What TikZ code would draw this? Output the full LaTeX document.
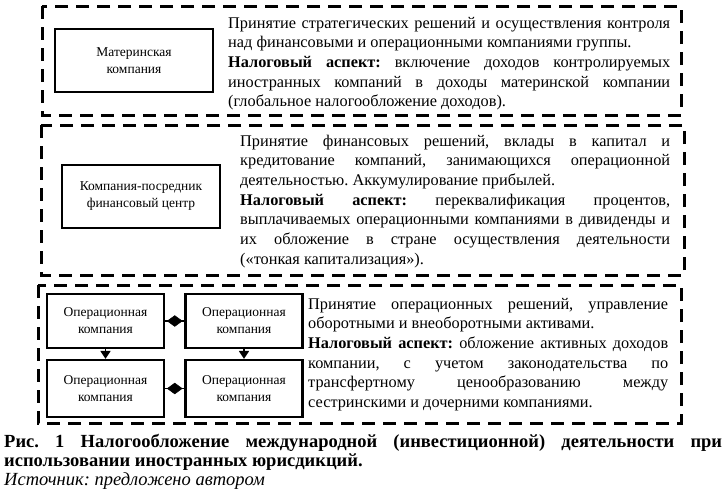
\documentclass[tikz,border=0pt]{standalone}
\usepackage{fontspec}
\setmainfont{Liberation Serif}
\usetikzlibrary{arrows.meta,shapes.geometric}
\tikzset{
  frame/.style={line width=3pt, dash pattern=on 13pt off 8pt},
  entity/.style={draw, line width=2pt, align=center, inner sep=0pt,
    font=\fontsize{13.5}{17}\selectfont},
  opbox/.style={entity, line width=2.2pt, minimum width=117pt},
  desc/.style={anchor=base west, inner sep=0pt, align=justify,
    font=\fontsize{16.3}{19.7}\selectfont},
  caption/.style={anchor=base west, inner sep=0pt, align=justify, text width=718pt,
    font=\fontsize{18.5}{19}\selectfont},
  linkline/.style={line width=1.6pt},
  dmark/.style={diamond, fill=black, draw=black, line width=0.5pt, inner sep=0pt,
    minimum width=15pt, minimum height=11pt},
  downlink/.style={line width=1.6pt, -{Triangle[length=8pt,width=10pt]}},
}
\begin{document}
\frenchspacing
\begin{tikzpicture}[x=1pt,y=-1pt]
\useasboundingbox (0,0) rectangle (726,491);
% dashed frames
\draw[frame] (42,6) rectangle (681,115);
\draw[frame] (41,125) rectangle (684,275);
\draw[frame] (38,285) rectangle (681,423);
% level 1
\node[entity, minimum width=158pt, minimum height=63pt] (mother) at (134,60.5) {Материнская\\компания};
\node[desc, text width=442pt] (d1) at (228,28) {\tolerance=10000\hyphenpenalty=10000
Принятие стратегических решений и осуществления контроля\linebreak
над финансовыми и операционными компаниями группы.\par
\textbf{Налоговый аспект:} включение доходов контролируемых\linebreak
иностранных компаний в доходы материнской компании\linebreak
(глобальное налогообложение доходов).};
% level 2
\node[entity, minimum width=158pt, minimum height=63pt] (fin) at (141,196.5) {Компания-посредник\\финансовый центр};
\node[desc, text width=430pt] (d2) at (240,146) {\tolerance=10000\hyphenpenalty=10000
Принятие финансовых решений, вклады в капитал и\linebreak
кредитование компаний, занимающихся операционной\linebreak
деятельностью. Аккумулирование прибылей.\par
\textbf{Налоговый аспект:} переквалификация процентов,\linebreak
выплачиваемых операционными компаниями в дивиденды и\linebreak
их обложение в стране осуществления деятельности\linebreak
(«тонкая капитализация»).};
% level 3
\node[opbox, minimum height=54pt] (opA) at (105.5,321) {Операционная\\компания};
\node[opbox, minimum height=54pt] (opB) at (244,321) {Операционная\\компания};
\node[opbox, minimum height=57pt] (opC) at (105.5,388.5) {Операционная\\компания};
\node[opbox, minimum height=57pt] (opD) at (244,388.5) {Операционная\\компания};
\draw[linkline] (opA) -- node[dmark] (mAB) {} (opB);
\draw[linkline] (opC) -- node[dmark] (mCD) {} (opD);
\draw[downlink] (opA) -- (opC);
\draw[downlink] (opB) -- (opD);
\node[desc, text width=360pt] (d3) at (308,309) {\tolerance=10000\hyphenpenalty=10000
Принятие операционных решений, управление\linebreak
оборотными и внеоборотными активами.\par
\textbf{Налоговый аспект:} обложение активных доходов\linebreak
компании, с учетом законодательства по\linebreak
трансфертному ценообразованию между\linebreak
сестринскими и дочерними компаниями.};
% caption
\node[caption] (cap) at (4,447) {\tolerance=10000\hyphenpenalty=10000
\textbf{Рис. 1 Налогообложение международной (инвестиционной) деятельности при\linebreak
использовании иностранных юрисдикций.}\par
\textit{Источник: предложено автором}};
\end{tikzpicture}
\end{document}
